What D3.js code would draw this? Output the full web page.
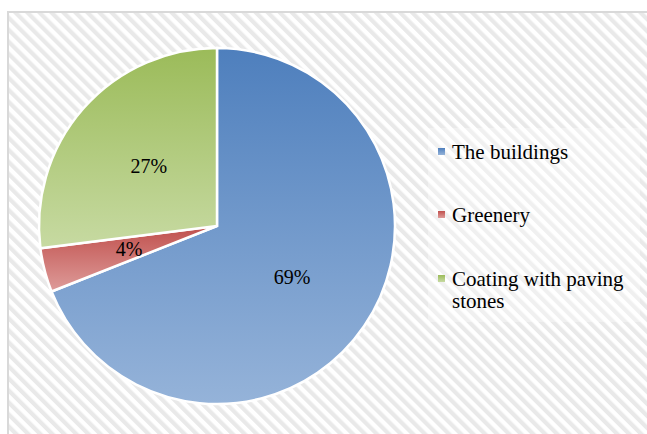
<!DOCTYPE html>
<html>
<head>
<meta charset="utf-8">
<script src="https://cdn.jsdelivr.net/npm/d3@7"></script>
<style>
  body { margin: 0; background: #fff; }
</style>
</head>
<body>
<div id="chart"></div>
<script>
var w = 647;
var h = 434;
var font = "'Liberation Serif'";

// data
var categories = ["The buildings", "Greenery", "Coating with paving stones"];
var values = [69, 4, 27];
var labels = ["69%", "4%", "27%"];
var colorsTop = ["#4e7fbd", "#c0504d", "#9bbb59"];
var colorsBottom = ["#95b3d9", "#de9c9a", "#c7daa2"];

var cx = 217, cy = 226, r = 178;

var svg = d3.select("#chart")
    .append("svg")
    .attr("width", w)
    .attr("height", h);

var defs = svg.append("defs");

// diagonal stripe background
var pat = defs.append("pattern")
    .attr("id", "stripes")
    .attr("patternUnits", "userSpaceOnUse")
    .attr("width", 8.5)
    .attr("height", 8.5)
    .attr("patternTransform", "rotate(-45)");
pat.append("rect").attr("width", 8.5).attr("height", 8.5).attr("fill", "#ffffff");
pat.append("rect").attr("width", 4.2).attr("height", 8.5).attr("fill", "#e9e9e9");

categories.forEach(function(c, i){
    var g = defs.append("linearGradient")
        .attr("id", "grad" + i)
        .attr("x1", 0).attr("y1", 0)
        .attr("x2", 0).attr("y2", 1);
    g.append("stop").attr("offset", "0%").attr("stop-color", colorsTop[i]);
    g.append("stop").attr("offset", "100%").attr("stop-color", colorsBottom[i]);
});

svg.append("rect")
    .attr("x", 8)
    .attr("y", 12)
    .attr("width", w + 20)
    .attr("height", h + 20)
    .attr("fill", "url(#stripes)")
    .attr("stroke", "#d9d9d9")
    .attr("stroke-width", 2);

// legend backdrop
svg.append("rect")
    .attr("x", 428)
    .attr("y", 128)
    .attr("width", 212)
    .attr("height", 194)
    .attr("fill", "#ffffff")
    .attr("opacity", 0.35);

var pie = d3.pie().sort(null).value(function(d){ return d; });
var arcs = pie(values);

var arc = d3.arc().innerRadius(0).outerRadius(r);
var labelArc = d3.arc().innerRadius(r * 0.51).outerRadius(r * 0.51);

var pieG = svg.append("g")
    .attr("transform", "translate(" + cx + "," + cy + ")");

pieG.selectAll("path")
    .data(arcs)
    .enter()
    .append("path")
    .attr("d", arc)
    .attr("fill", function(d, i){ return "url(#grad" + i + ")"; })
    .attr("stroke", "#ffffff")
    .attr("stroke-width", 2.5)
    .attr("stroke-linejoin", "miter");

pieG.selectAll("text")
    .data(arcs)
    .enter()
    .append("text")
    .attr("x", function(d){ return labelArc.centroid(d)[0]; })
    .attr("y", function(d){ return labelArc.centroid(d)[1]; })
    .attr("dy", "0.35em")
    .attr("text-anchor", "middle")
    .attr("fill", "#000")
    .style("font-family", font)
    .style("font-size", "20px")
    .text(function(d, i){ return labels[i]; });

// legend
var legendX = 438;
var legendY = [159, 222, 286];

categories.forEach(function(c, i){
    svg.append("rect")
        .attr("x", legendX)
        .attr("y", legendY[i] - 11)
        .attr("width", 7)
        .attr("height", 7)
        .attr("fill", "url(#grad" + i + ")");

    var t = svg.append("text")
        .attr("x", legendX + 14)
        .attr("y", legendY[i])
        .attr("fill", "#000")
        .style("font-family", font)
        .style("font-size", "21px");

    // simple word wrap
    var words = c.split(" ");
    var line = [];
    var tspan = t.append("tspan").attr("x", legendX + 14).attr("dy", 0);
    words.forEach(function(word){
        line.push(word);
        tspan.text(line.join(" "));
        if (tspan.node().getComputedTextLength() > 185 && line.length > 1) {
            line.pop();
            tspan.text(line.join(" "));
            line = [word];
            tspan = t.append("tspan").attr("x", legendX + 14).attr("dy", 22).text(word);
        }
    });
});
</script>
</body>
</html>
